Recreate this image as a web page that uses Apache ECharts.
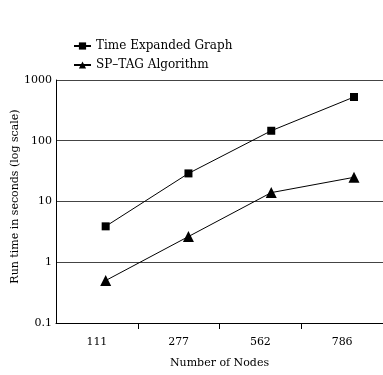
<!DOCTYPE html>
<html lang="en">
<head>
    <meta charset="UTF-8">
    <title>Run time vs nodes</title>
    <script src="https://cdn.jsdelivr.net/npm/echarts@6/dist/echarts.min.js"></script>
    <style>
        html, body { margin: 0; padding: 0; background: #fff; }
        #main { width: 383px; height: 375px; }
    </style>
</head>
<body>
<div id="main"></div>
<script type="text/javascript">
    const nodes = ['111', '277', '562', '786'];
    const timeExpanded = [3.9, 29, 146, 525];
    const spTag = [0.5, 2.65, 14, 25];
    const yTicks = [0.1, 1, 10, 100, 1000];

    const font = 'DejaVu Serif';

    // markers sit a little right of the category centres in the original
    function byIndex(arr) {
        return arr.map(function (v, i) { return [i, v]; });
    }

    let chart = echarts.init(document.getElementById('main'));
    let option = {
        animation: false,
        textStyle: {fontFamily: font, color: '#000'},
        legend: {
            orient: 'vertical',
            left: 68,
            top: 35,
            itemWidth: 17,
            itemHeight: 9,
            itemGap: 7,
            textStyle: {fontFamily: font, fontSize: 12, color: '#000'},
            data: ['Time Expanded Graph', 'SP\u2013TAG Algorithm']
        },
        grid: [
            {left: 56, right: 0, top: 80, bottom: 52, outerBoundsMode: 'none'},
            {left: 56, right: 0, top: 80, bottom: 52, outerBoundsMode: 'none'}
        ],
        xAxis: [{
            type: 'category',
            gridIndex: 0,
            data: nodes,
            boundaryGap: true,
            name: 'Number of Nodes',
            nameLocation: 'middle',
            nameGap: 35,
            nameMoveOverlap: false,
            nameTextStyle: {fontFamily: font, fontSize: 11, color: '#000'},
            axisLine: {lineStyle: {color: '#000', width: 1}},
            axisTick: {
                show: true,
                length: 6,
                interval: function (i) { return i > 0 && i < nodes.length; },
                lineStyle: {color: '#000'}
            },
            axisLabel: {fontFamily: font, fontSize: 11, color: '#000', margin: 14}
        }, {
            type: 'value',
            gridIndex: 1,
            min: -0.6,
            max: 3.35,
            show: false
        }],
        yAxis: [{
            type: 'log',
            gridIndex: 0,
            logBase: 10,
            min: yTicks[0],
            max: yTicks[yTicks.length - 1],
            name: 'Run time in seconds (log scale)',
            nameLocation: 'middle',
            nameGap: 35,
            nameMoveOverlap: false,
            nameTextStyle: {fontFamily: font, fontSize: 11, color: '#000', padding: [0, 0, 0, 10]},
            axisLine: {show: true, lineStyle: {color: '#000', width: 1}},
            axisTick: {show: false},
            minorTick: {show: false},
            axisLabel: {
                fontFamily: font, fontSize: 11, color: '#000', margin: 4,
                formatter: function (v) { return String(+v.toPrecision(3)); }
            },
            splitLine: {show: true, lineStyle: {color: '#444', width: 1}}
        }, {
            type: 'log',
            gridIndex: 1,
            logBase: 10,
            min: yTicks[0],
            max: yTicks[yTicks.length - 1],
            show: false
        }],
        series: [{
            name: 'Time Expanded Graph',
            type: 'line',
            xAxisIndex: 1,
            yAxisIndex: 1,
            data: byIndex(timeExpanded),
            symbol: 'rect',
            symbolSize: 8,
            itemStyle: {color: '#000'},
            lineStyle: {color: '#000', width: 1}
        }, {
            name: 'SP\u2013TAG Algorithm',
            type: 'line',
            xAxisIndex: 1,
            yAxisIndex: 1,
            data: byIndex(spTag),
            symbol: 'triangle',
            symbolSize: 11,
            itemStyle: {color: '#000'},
            lineStyle: {color: '#000', width: 1}
        }]
    };
    chart.setOption(option);
</script>
</body>
</html>
